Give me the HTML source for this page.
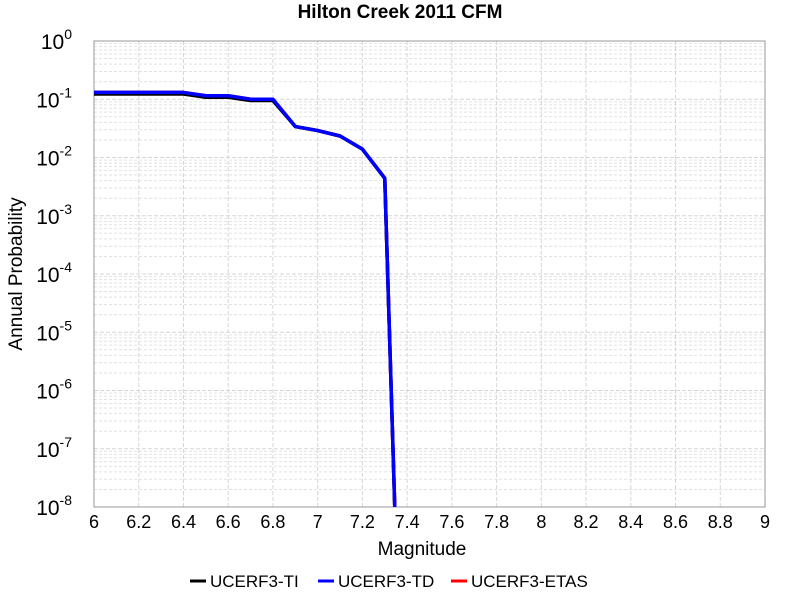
<!DOCTYPE html>
<html><head><meta charset="utf-8"><style>
html,body{margin:0;padding:0;background:#fff;overflow:hidden;width:800px;height:600px;}
svg{display:block;}
svg text{font-family:"Liberation Sans",sans-serif;}
</style></head><body>
<svg id="c" width="800" height="600" xmlns="http://www.w3.org/2000/svg">
<text x="400" y="18" text-anchor="middle" font-size="19" font-weight="bold">Hilton Creek 2011 CFM</text>
<g id="grid"></g>
<rect x="94" y="41" width="671" height="466" fill="none" stroke="#999" stroke-width="1"/>
<g id="series"></g>
<g id="ticks"></g>
<text x="422" y="555" text-anchor="middle" font-size="19">Magnitude</text>
<text transform="translate(22,274) rotate(-90)" text-anchor="middle" font-size="19">Annual Probability</text>
<g>
<line x1="190" y1="581" x2="206" y2="581" stroke="#000" stroke-width="3"/>
<text x="210" y="587" font-size="17">UCERF3-TI</text>
<line x1="318" y1="581" x2="334" y2="581" stroke="#00f" stroke-width="3"/>
<text x="338" y="587" font-size="17">UCERF3-TD</text>
<line x1="451" y1="581" x2="467" y2="581" stroke="#f00" stroke-width="3"/>
<text x="471" y="587" font-size="17">UCERF3-ETAS</text>
</g>
</svg>
<script>
const mags=[6.0,6.1,6.2,6.3,6.4,6.5,6.6,6.7,6.8,6.9,7.0,7.1,7.2,7.3,7.4];
const tiVals=[0.123,0.123,0.123,0.123,0.123,0.108,0.108,0.095,0.095,0.034,0.029,0.0234,0.0139,0.0044,1e-15];
const tdVals=[0.131,0.131,0.131,0.131,0.131,0.115,0.115,0.1,0.1,0.034,0.029,0.0234,0.0139,0.0044,1e-15];
const etasVals=[0.131,0.131,0.131,0.131,0.131,0.115,0.115,0.1,0.1,0.034,0.029,0.0234,0.0139,0.0044,1e-15];
const xTicks=[6,6.2,6.4,6.6,6.8,7,7.2,7.4,7.6,7.8,8,8.2,8.4,8.6,8.8,9];
const yExps=[0,-1,-2,-3,-4,-5,-6,-7,-8];
const X0=94,X1=765,Y0=41,Y1=507;
const xs=m=>X0+(m-6)/(9-6)*(X1-X0);
const ys=v=>Y0+(-Math.log10(v))/8*(Y1-Y0);
const NS="http://www.w3.org/2000/svg";
const grid=document.getElementById('grid'),ticks=document.getElementById('ticks'),series=document.getElementById('series');
function mk(t,a,p){const e=document.createElementNS(NS,t);for(const k in a)e.setAttribute(k,a[k]);p.appendChild(e);return e;}
for(let d=0;d<8;d++){for(let k=2;k<=9;k++){const y=ys(k*Math.pow(10,-d-1));
const l=mk('line',{x1:X0,x2:X1,y1:y,y2:y,stroke:'#e2e2e2','stroke-dasharray':'3,2'},grid);

}}
yExps.forEach(e=>{const y=ys(Math.pow(10,e));
const l=mk('line',{x1:X0,x2:X1,y1:y,y2:y,stroke:'#d6d6d6','stroke-dasharray':'4,2'},grid);


const t=mk('text',{x:72,y:y+8,'text-anchor':'end','font-size':'21'},ticks);


t.textContent='10';
const s=mk('tspan',{dy:'-10','font-size':'14'},t);s.textContent=String(e);});
xTicks.forEach(m=>{const x=xs(m);
const l=mk('line',{x1:x,x2:x,y1:Y0,y2:Y1,stroke:'#d6d6d6','stroke-dasharray':'4,2'},grid);


const t=mk('text',{x:x,y:528,'text-anchor':'middle','font-size':'18'},ticks);


t.textContent=String(m);});
function draw(vals,col,name){
  const pts=[];
  for(let i=0;i<mags.length;i++){
    const x=xs(mags[i]),y=ys(vals[i]);
    if(y>Y1){
      if(i>0){const px=xs(mags[i-1]),py=ys(vals[i-1]);
        if(py<=Y1){const f=(Y1-py)/(y-py);pts.push((px+f*(x-px))+','+Y1);}}
      break;
    }
    pts.push(x+','+y);
  }
  const p=mk('polyline',{points:pts.join(' '),fill:'none',stroke:col,'stroke-width':'3.5','stroke-linejoin':'round'},series);
  
  
}
draw(etasVals,'#f00','series-ucerf3-etas');
draw(tiVals,'#000','series-ucerf3-ti');
draw(tdVals,'#00f','series-ucerf3-td');
</script>
</body></html>
